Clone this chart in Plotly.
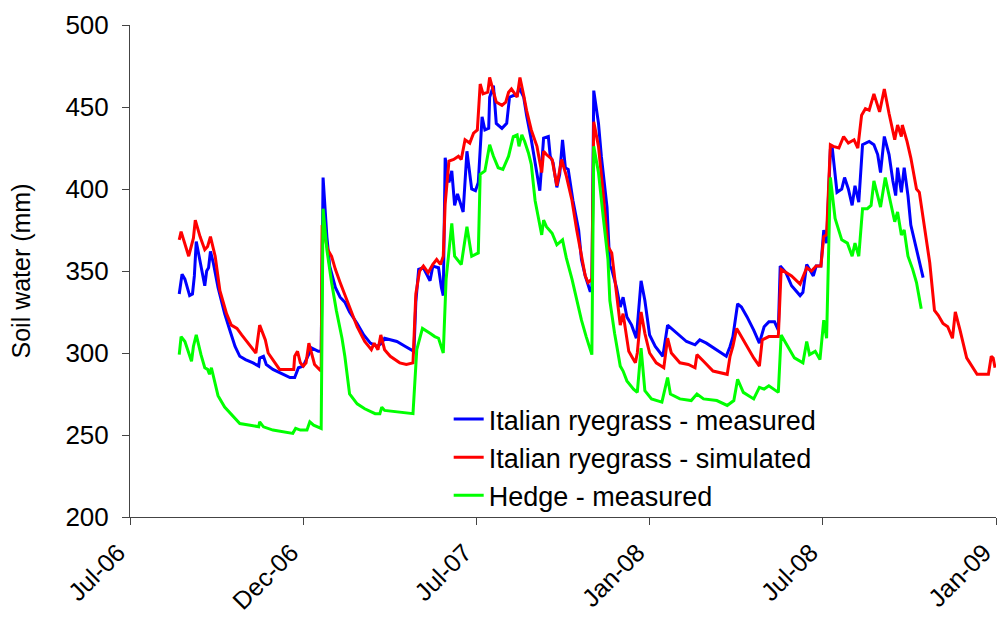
import pandas as pd
import plotly.graph_objects as go

START = pd.Timestamp("2006-07-01")

# Italian ryegrass - measured (day since 1 Jul 2006, soil water mm)
blue_day = [52, 55, 58, 63, 66, 68, 70, 74, 79, 81, 83, 85, 88, 93, 100, 106, 111, 116, 122, 130, 136, 137, 141, 144,
            151, 162, 169, 174, 178, 183, 192, 199, 202, 204, 206, 208, 211, 217, 222, 227, 232, 240, 247, 254, 261,
            266, 269, 275, 282, 291, 298, 300, 302, 305, 310, 317, 320, 326, 329, 331, 333, 337, 340, 343, 346, 352,
            356, 361, 365, 368, 372, 375, 379, 380, 384, 387, 393, 398, 401, 405, 409, 411, 416, 419, 424, 428, 433,
            437, 442, 444, 447, 451, 454, 457, 460, 463, 468, 474, 477, 481, 486, 488, 490, 495, 498, 504, 507, 509,
            514, 518, 521, 525, 530, 535, 540, 544, 549, 555, 563, 568, 574, 583, 588, 597, 602, 609, 620, 630, 634,
            637, 642, 646, 652, 659, 665, 670, 675, 681, 685, 687, 693, 699, 708, 711, 715, 718, 722, 725, 730, 733,
            736, 740, 742, 747, 752, 755, 759, 763, 766, 770, 774, 781, 786, 790, 793, 797, 802, 806, 809, 811, 815,
            818, 822, 825, 831, 838]
blue_val = [336, 348, 345, 335, 336, 347, 368, 355, 341, 350, 352, 362, 355, 340, 324, 313, 304, 298, 296, 294, 292, 297,
            298, 293, 290, 287, 285, 285, 291, 292, 303, 301, 301, 407, 387, 371, 353, 340, 334, 331, 325, 318, 311, 306,
            304, 306, 309, 308, 307, 304, 302, 301, 331, 351, 352, 344, 353, 352, 340, 335, 419, 404, 411, 390, 397, 386,
            423, 400, 399, 404, 444, 436, 437, 456, 463, 440, 437, 440, 456, 457, 457, 462, 456, 445, 430, 416, 399,
            431, 432, 420, 416, 401, 409, 430, 413, 412, 393, 375, 357, 347, 338, 338, 460, 440, 420, 389, 353, 351,
            340, 328, 334, 322, 317, 309, 344, 332, 311, 304, 298, 317, 314, 309, 307, 305, 308, 306, 302, 298, 304,
            310, 330, 328, 322, 314, 306, 316, 319, 319, 314, 353, 349, 341, 335, 337, 354, 351, 347, 353, 353, 375,
            367, 424, 425, 398, 400, 407, 400, 390, 402, 392, 427, 429, 427, 421, 410, 432, 421, 405, 396, 413, 398,
            413, 396, 378, 363, 346]

# Italian ryegrass - simulated
red_day = [52, 54, 62, 67, 69, 74, 79, 82, 85, 90, 95, 102, 107, 113, 118, 122, 125, 130, 133, 137, 143, 146, 151, 158,
           173, 174, 177, 180, 183, 186, 189, 192, 195, 200, 202, 203, 209, 213, 217, 222, 231, 240, 248, 255, 258, 262,
           265, 269, 275, 285, 292, 299, 302, 306, 310, 315, 320, 324, 328, 331, 333, 337, 342, 347, 350, 354, 359,
           363, 367, 370, 373, 378, 380, 384, 387, 393, 397, 400, 403, 409, 412, 416, 419, 424, 430, 435, 437, 440,
           446, 451, 456, 461, 467, 472, 477, 481, 484, 488, 490, 495, 500, 505, 509, 514, 518, 521, 527, 531, 534,
           536, 540, 544, 549, 556, 564, 568, 572, 581, 590, 597, 599, 606, 616, 631, 634, 637, 641, 643, 650, 659,
           665, 668, 675, 685, 688, 693, 699, 708, 715, 720, 725, 730, 733, 736, 740, 743, 749, 754, 759, 765, 769,
           773, 777, 781, 786, 792, 797, 802, 808, 811, 815, 816, 821, 825, 831, 834, 840, 845, 850, 854, 859, 864,
           869, 872, 877, 884, 895, 907, 910, 912, 914]
red_val = [369, 374, 359, 370, 381, 371, 363, 365, 371, 359, 338, 324, 317, 315, 311, 308, 306, 302, 300, 317, 308, 300,
           296, 290, 290, 298, 301, 294, 292, 294, 306, 300, 293, 290, 289, 378, 363, 359, 351, 343, 329, 316, 307, 302,
           306, 302, 311, 302, 298, 294, 293, 294, 336, 350, 353, 349, 354, 357, 354, 359, 391, 417, 418, 420, 418, 430,
           428, 434, 436, 464, 458, 459, 468, 459, 453, 451, 453, 459, 461, 456, 468, 457, 448, 436, 426, 410, 423,
           421, 418, 402, 418, 408, 393, 375, 359, 347, 343, 345, 441, 426, 397, 365, 361, 338, 317, 324, 301, 297,
           294, 300, 325, 312, 300, 294, 291, 309, 300, 294, 293, 291, 299, 295, 289, 287, 298, 304, 315, 313, 306,
           297, 292, 308, 310, 310, 351, 349, 347, 342, 352, 350, 353, 353, 371, 372, 427, 426, 425, 432, 428, 430,
           425, 445, 449, 448, 458, 447, 461, 446, 430, 439, 432, 439, 429, 419, 400, 398, 376, 355, 326, 323, 318,
           316, 309, 325, 314, 297, 287, 287, 298, 297, 291]

# Hedge - measured
green_day = [52, 54, 58, 65, 67, 70, 75, 79, 82, 84, 86, 88, 93, 100, 109, 116, 127, 136, 137, 141, 151, 162, 172, 175,
             180, 187, 190, 194, 201, 202, 204, 208, 213, 218, 224, 227, 232, 240, 248, 259, 264, 266, 269, 282, 299,
             303, 309, 317, 322, 326, 331, 334, 340, 343, 350, 356, 361, 368, 370, 375, 380, 384, 389, 394, 400, 405,
             409, 411, 414, 417, 421, 424, 428, 431, 435, 437, 440, 446, 451, 457, 461, 467, 472, 477, 482, 488, 490,
             495, 500, 505, 507, 512, 518, 521, 525, 532, 536, 540, 544, 551, 562, 568, 571, 581, 593, 599, 606, 620,
             631, 638, 642, 648, 659, 665, 670, 675, 685, 688, 693, 702, 711, 715, 718, 724, 729, 733, 736, 740, 745,
             752, 758, 763, 766, 770, 774, 779, 783, 786, 793, 798, 802, 808, 811, 815, 818, 822, 827, 831, 836]
green_val = [299, 310, 307, 295, 304, 311, 299, 291, 290, 287, 291, 286, 274, 267, 261, 257, 256, 255, 258, 255, 253, 252,
             251, 254, 253, 253, 258, 256, 254, 254, 388, 363, 343, 326, 309, 298, 275, 269, 266, 263, 263, 267, 265,
             264, 263, 302, 315, 312, 310, 309, 300, 345, 379, 359, 354, 377, 359, 361, 409, 411, 427, 420, 413, 412,
             420, 432, 433, 426, 433, 429, 422, 415, 393, 384, 372, 381, 377, 373, 366, 369, 358, 345, 332, 320, 310,
             299, 426, 410, 383, 357, 332, 312, 292, 289, 283, 278, 276, 303, 277, 272, 270, 285, 275, 272, 271, 275,
             272, 271, 268, 271, 284, 276, 272, 279, 278, 280, 276, 311, 306, 297, 294, 307, 299, 301, 296, 320, 309,
             407, 382, 369, 367, 359, 367, 359, 388, 388, 390, 405, 389, 407, 396, 380, 386, 372, 375, 359, 351, 343,
             327]

tick_days = [0, 183, 366, 549, 732, 915]
tick_text = ["Jul-06", "Dec-06", "Jul-07", "Jan-08", "Jul-08", "Jan-09"]


def to_dates(days):
    return START + pd.to_timedelta(days, unit="D")


FONT = "Liberation Sans, Arial, sans-serif"
AXIS = "#444444"

fig = go.Figure()
for name, d, v, c in [
    ("Italian ryegrass - measured", blue_day, blue_val, "#0000FF"),
    ("Italian ryegrass - simulated", red_day, red_val, "#FF0000"),
    ("Hedge - measured", green_day, green_val, "#00FF00"),
]:
    fig.add_trace(go.Scatter(x=to_dates(d), y=v, mode="lines", name=name,
                             line=dict(color=c, width=3)))

fig.update_layout(
    width=997, height=619,
    margin=dict(l=130, r=1, t=25, b=102),
    paper_bgcolor="white", plot_bgcolor="white",
    font=dict(family=FONT, size=26, color="black"),
    showlegend=True,
    legend=dict(x=0.368, y=0.248, xanchor="left", yanchor="top",
                bgcolor="rgba(0,0,0,0)", font=dict(size=27, family=FONT),
                tracegroupgap=0, itemwidth=30),
    xaxis=dict(
        type="date", automargin=False,
        range=[to_dates([0])[0], to_dates([915])[0]],
        tickvals=list(to_dates(tick_days)), ticktext=tick_text,
        tickangle=-45, ticks="outside", ticklen=7, tickcolor=AXIS,
        showline=True, linecolor=AXIS, linewidth=1,
        showgrid=False, zeroline=False,
        ticklabelstandoff=3, ticklabelshift=-12,
        tickfont=dict(size=25, family=FONT),
    ),
    yaxis=dict(
        automargin=False,
        range=[200, 500], tickvals=[200, 250, 300, 350, 400, 450, 500],
        ticks="outside", ticklen=7, tickcolor=AXIS,
        showline=True, linecolor=AXIS, linewidth=1,
        showgrid=False, zeroline=False,
        ticklabelstandoff=8,
        title=dict(text="Soil water (mm)", font=dict(size=25, family=FONT), standoff=27),
        tickfont=dict(size=26, family=FONT),
    ),
)

fig.write_html("out.html")
